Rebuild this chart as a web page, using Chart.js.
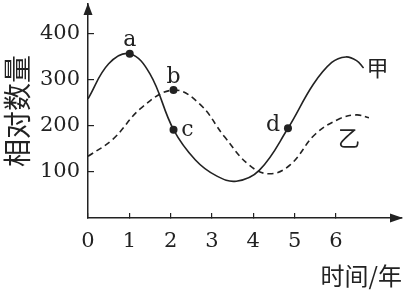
<!DOCTYPE html>
<html>
<head>
<meta charset="utf-8">
<script src="https://cdn.jsdelivr.net/npm/chart.js@4/dist/chart.umd.min.js"></script>
<style>
html,body{margin:0;padding:0;background:#fff;}
#wrap{width:406px;height:291px;position:relative;}
</style>
</head>
<body>
<div id="wrap"><canvas id="c" width="406" height="291"></canvas></div>
<script>
// 甲 (solid)
const jiaX = [0, 0.5, 1.01, 1.5, 2.07, 2.6, 3.1, 3.59, 4.15, 4.84, 5.45, 5.9, 6.24, 6.5, 6.67];
const jiaY = [259, 335, 357, 313, 192, 126, 92, 80, 104, 195, 290, 338, 350, 342, 326];
// 乙 (dashed)
const yiX = [0, 0.6, 1.3, 2.07, 2.7, 3.3, 3.9, 4.4, 4.9, 5.5, 6.1, 6.5, 6.8];
const yiY = [134, 171, 240, 278, 248, 177, 115, 96, 116, 182, 216, 224, 218];
// marked points
const markNames = ['a', 'b', 'c', 'd'];
const markX = [1.01, 2.07, 2.07, 4.84];
const markY = [357, 278, 192, 195];
// ticks
const xTicks = [0, 1, 2, 3, 4, 5, 6];
const yTicks = [100, 200, 300, 400];
const seriesNames = ['甲', '乙'];

const INK = '#222';
const toPts = (xs, ys) => xs.map((x, i) => ({x: x, y: ys[i]}));

// label offsets (pixels) relative to anchors
const markOffsets = {a: [0, -13], b: [0, -13], c: [14, 1], d: [-15, -3]};
const seriesOffsets = [[14, 0], [-20, 20]];

const labelPlugin = {
  id: 'labels',
  afterDatasetsDraw(chart) {
    const ctx = chart.ctx;
    const xs = chart.scales.x, ys = chart.scales.y;
    ctx.save();
    ctx.fillStyle = INK;
    ctx.textAlign = 'center';
    ctx.textBaseline = 'middle';
    ctx.font = '22px "DejaVu Serif", "Liberation Serif", serif';
    markNames.forEach((n, i) => {
      const px = xs.getPixelForValue(markX[i]);
      const py = ys.getPixelForValue(markY[i]);
      const o = markOffsets[n];
      ctx.fillText(n, px + o[0], py + o[1]);
    });
    ctx.font = '22px "Noto Sans CJK SC", sans-serif';
    const ends = [[jiaX, jiaY], [yiX, yiY]];
    ends.forEach((e, i) => {
      const last = e[0].length - 1;
      const px = xs.getPixelForValue(e[0][last]);
      const py = ys.getPixelForValue(e[1][last]);
      const o = seriesOffsets[i];
      ctx.fillText(seriesNames[i], px + o[0], py + o[1]);
    });
    ctx.restore();
  },
  afterDraw(chart) {
    const ctx = chart.ctx;
    const a = chart.chartArea;
    ctx.save();
    ctx.fillStyle = INK;
    // y arrow
    ctx.beginPath();
    ctx.moveTo(a.left, a.top - 1);
    ctx.lineTo(a.left - 4.5, a.top + 11);
    ctx.lineTo(a.left + 4.5, a.top + 11);
    ctx.closePath();
    ctx.fill();
    // x arrow
    ctx.beginPath();
    ctx.moveTo(a.right + 1, a.bottom);
    ctx.lineTo(a.right - 12, a.bottom - 4.5);
    ctx.lineTo(a.right - 12, a.bottom + 4.5);
    ctx.closePath();
    ctx.fill();
    ctx.restore();
  }
};

new Chart(document.getElementById('c'), {
  type: 'line',
  data: {
    datasets: [
      {
        label: seriesNames[0],
        data: toPts(jiaX, jiaY),
        borderColor: INK,
        borderWidth: 1.6,
        pointRadius: 0,
        tension: 0.4,
        fill: false
      },
      {
        label: seriesNames[1],
        data: toPts(yiX, yiY),
        borderColor: INK,
        borderWidth: 1.6,
        borderDash: [6, 4],
        pointRadius: 0,
        tension: 0.4,
        fill: false
      },
      {
        label: 'marks',
        data: toPts(markX, markY),
        showLine: false,
        pointRadius: 4,
        pointBackgroundColor: INK,
        pointBorderColor: INK,
        borderWidth: 0
      }
    ]
  },
  options: {
    responsive: false,
    animation: false,
    devicePixelRatio: 1,
    layout: {padding: {left: 0, right: 3, top: 3, bottom: 0}},
    plugins: {legend: {display: false}, tooltip: {enabled: false}},
    scales: {
      x: {
        type: 'linear',
        min: 0,
        max: 7.6,
        afterBuildTicks: (s) => { s.ticks = xTicks.map(v => ({value: v})); },
        afterFit: (s) => { s.height = 73; s.paddingLeft = 0; s.paddingRight = 0; },
        border: {display: true, color: INK, width: 1.5},
        grid: {display: true, drawOnChartArea: false, drawTicks: true, tickLength: -5, color: INK, lineWidth: 1.2},
        ticks: {
          padding: 16,
          color: INK,
          maxRotation: 0,
          autoSkip: false,
          font: {family: '"DejaVu Serif", "Liberation Serif", serif', size: 21}
        },
        title: {
          display: true,
          text: '时间/年',
          align: 'end',
          color: INK,
          padding: {top: 0, bottom: 1},
          font: {family: '"Noto Sans CJK SC", sans-serif', size: 24}
        }
      },
      y: {
        type: 'linear',
        min: 0,
        max: 465,
        afterBuildTicks: (s) => { s.ticks = yTicks.map(v => ({value: v})); },
        afterFit: (s) => { s.width = 88; s.paddingTop = 0; s.paddingBottom = 0; },
        border: {display: true, color: INK, width: 1.5},
        grid: {display: true, drawOnChartArea: false, drawTicks: true, tickLength: -6, color: INK, lineWidth: 1.2},
        ticks: {
          padding: 14,
          color: INK,
          autoSkip: false,
          font: {family: '"DejaVu Serif", "Liberation Serif", serif', size: 21}
        },
        title: {
          display: true,
          text: '相对数量',
          color: INK,
          padding: {top: 1, bottom: 0},
          font: {family: '"Noto Sans CJK SC", sans-serif', size: 28}
        }
      }
    }
  },
  plugins: [labelPlugin]
});
</script>
</body>
</html>
